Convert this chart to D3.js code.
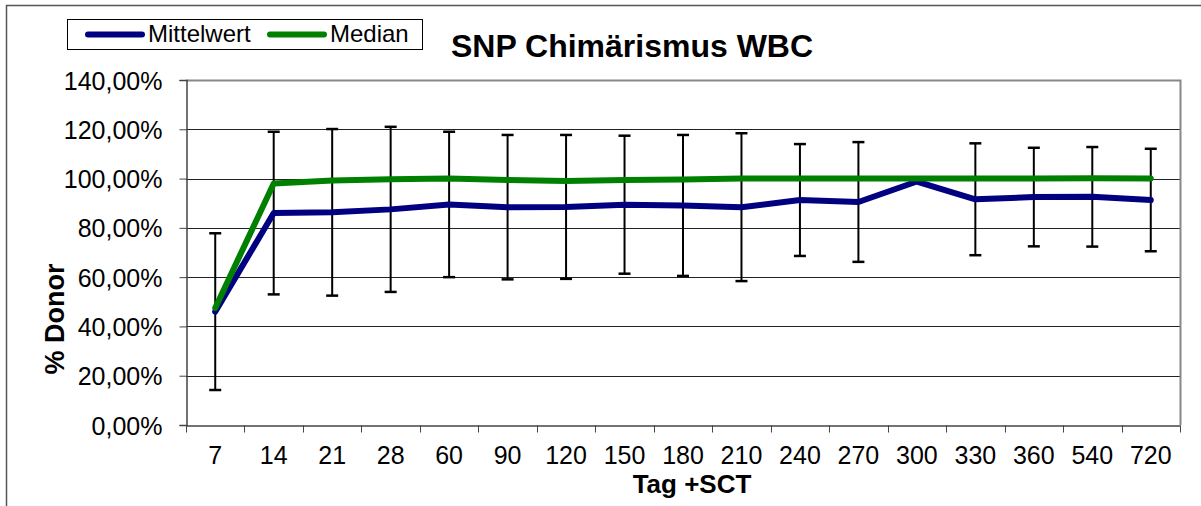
<!DOCTYPE html>
<html>
<head>
<meta charset="utf-8">
<script src="https://cdn.jsdelivr.net/npm/d3@7"></script>
<style>
  body { margin: 0; background: #fff; }
  svg { font-family: "Liberation Sans", Arial, sans-serif; }
</style>
</head>
<body>
<svg id="chart" width="1201" height="506"></svg>
<script>
const width = 1201;
const height = 506;

// data
const days = ["7","14","21","28","60","90","120","150","180","210","240","270","300","330","360","540","720"];
const mittelwert = [46, 86, 86.3, 87.5, 89.5, 88.4, 88.5, 89.4, 89.1, 88.4, 91.3, 90.5, 98.8, 91.6, 92.5, 92.6, 91.3];
const median = [47.5, 98, 99.2, 99.7, 100, 99.4, 99, 99.4, 99.6, 100, 100, 100, 100, 100, 100, 100.1, 100];
const sd = [31.8, 33, 33.8, 33.5, 29.5, 29.3, 29.2, 28, 28.6, 30, 22.7, 24.3, null, 22.7, 20, 20.2, 20.8];
const yTicks = [0, 20, 40, 60, 80, 100, 120, 140];

const svg = d3.select("#chart");

const plot = {left: 186, right: 1180, top: 80, bottom: 425};

const x = d3.scaleBand()
    .domain(days)
    .range([plot.left, plot.right]);

const y = d3.scaleLinear()
    .domain([0, 140])
    .range([plot.bottom, plot.top]);

const fmt = v => v.toFixed(2).replace(".", ",") + "%";

// outer chart border
svg.append("rect")
    .attr("x", 6.5).attr("y", 5.5)
    .attr("width", width + 10).attr("height", height + 10)
    .attr("fill", "none")
    .attr("stroke", "#555")
    .attr("stroke-width", 1.5);

// grid lines
svg.append("g")
    .selectAll("line")
    .data(yTicks.filter(d => d > 0 && d < 140))
    .enter()
    .append("line")
    .attr("x1", plot.left).attr("x2", plot.right)
    .attr("y1", d => Math.round(y(d)) + 0.5)
    .attr("y2", d => Math.round(y(d)) + 0.5)
    .attr("stroke", "#222")
    .attr("stroke-width", 1.2);

// plot border top + right
svg.append("path")
    .attr("d", `M${plot.left},${plot.top + 0.5}H${plot.right + 0.5}V${plot.bottom}`)
    .attr("fill", "none")
    .attr("stroke", "#888")
    .attr("stroke-width", 2);

// y axis
const yAxis = svg.append("g")
    .attr("transform", `translate(${plot.left + 0.5},0)`)
    .call(d3.axisLeft(y).tickValues(yTicks).tickFormat(fmt).tickSize(7).tickPadding(17));
yAxis.select(".domain").attr("stroke", "#444").attr("stroke-width", 1.5);
yAxis.selectAll(".tick line").attr("stroke", "#444");
yAxis.selectAll("text")
    .attr("font-size", 25)
    .attr("fill", "#000")
    .attr("dy", "0.36em")
    .attr("font-family", "Liberation Sans, Arial, sans-serif");

// x axis with ticks at the category boundaries
const xAxis = svg.append("g")
    .attr("transform", `translate(0,${plot.bottom + 0.5})`)
    .call(d3.axisBottom(x).tickSize(0).tickPadding(21));
xAxis.select(".domain").attr("stroke", "#444").attr("stroke-width", 1.5);
xAxis.selectAll("text")
    .attr("font-size", 25)
    .attr("fill", "#000")
    .attr("font-family", "Liberation Sans, Arial, sans-serif");
xAxis.selectAll(".boundary")
    .data(days.concat(["end"]))
    .enter()
    .append("line")
    .attr("class", "boundary")
    .attr("x1", (d, i) => Math.round(plot.left + i * x.bandwidth()) + 0.5)
    .attr("x2", (d, i) => Math.round(plot.left + i * x.bandwidth()) + 0.5)
    .attr("y1", 0).attr("y2", 7)
    .attr("stroke", "#444");

const cx = d => x(d) + x.bandwidth() / 2;

// error bars around the mean
const errData = days.map((d, i) => ({day: d, m: mittelwert[i], s: sd[i]})).filter(d => d.s != null);
const err = svg.append("g").attr("stroke", "#000").attr("stroke-width", 2);
err.selectAll(".stem")
    .data(errData)
    .enter()
    .append("line")
    .attr("x1", d => cx(d.day)).attr("x2", d => cx(d.day))
    .attr("y1", d => y(d.m + d.s)).attr("y2", d => y(d.m - d.s));
err.selectAll(".capTop")
    .data(errData)
    .enter()
    .append("line")
    .attr("x1", d => cx(d.day) - 6).attr("x2", d => cx(d.day) + 6)
    .attr("y1", d => y(d.m + d.s)).attr("y2", d => y(d.m + d.s))
    .attr("stroke-width", 2.5);
err.selectAll(".capBottom")
    .data(errData)
    .enter()
    .append("line")
    .attr("x1", d => cx(d.day) - 6).attr("x2", d => cx(d.day) + 6)
    .attr("y1", d => y(d.m - d.s)).attr("y2", d => y(d.m - d.s))
    .attr("stroke-width", 2.5);

// lines
const line = d3.line()
    .x((d, i) => cx(days[i]))
    .y(d => y(d));

svg.append("path")
    .datum(mittelwert)
    .attr("d", line)
    .attr("fill", "none")
    .attr("stroke", "#000080")
    .attr("stroke-width", 6)
    .attr("stroke-linecap", "round")
    .attr("stroke-linejoin", "round");

svg.append("path")
    .datum(median)
    .attr("d", line)
    .attr("fill", "none")
    .attr("stroke", "#008000")
    .attr("stroke-width", 6)
    .attr("stroke-linecap", "round")
    .attr("stroke-linejoin", "round");

// title
svg.append("text")
    .attr("x", 632).attr("y", 57)
    .attr("text-anchor", "middle")
    .attr("font-size", 32)
    .attr("font-weight", "bold")
    .text("SNP Chimärismus WBC");

// axis titles
svg.append("text")
    .attr("x", 692).attr("y", 493)
    .attr("text-anchor", "middle")
    .attr("font-size", 26)
    .attr("font-weight", "bold")
    .text("Tag +SCT");

svg.append("text")
    .attr("transform", "translate(64,319) rotate(-90)")
    .attr("text-anchor", "middle")
    .attr("font-size", 27)
    .attr("font-weight", "bold")
    .text("% Donor");

// legend
const legend = svg.append("g");
legend.append("rect")
    .attr("x", 67.5).attr("y", 19.5)
    .attr("width", 355).attr("height", 30)
    .attr("fill", "#fff")
    .attr("stroke", "#000")
    .attr("stroke-width", 1);

const legendItems = [
    {name: "Mittelwert", color: "#000080", x: 88},
    {name: "Median", color: "#008000", x: 270}
];
legendItems.forEach(it => {
    legend.append("line")
        .attr("x1", it.x).attr("x2", it.x + 54)
        .attr("y1", 34.5).attr("y2", 34.5)
        .attr("stroke", it.color)
        .attr("stroke-width", 6)
        .attr("stroke-linecap", "round");
    legend.append("text")
        .attr("x", it.x + 60).attr("y", 42)
        .attr("font-size", 24)
        .text(it.name);
});
</script>
</body>
</html>
